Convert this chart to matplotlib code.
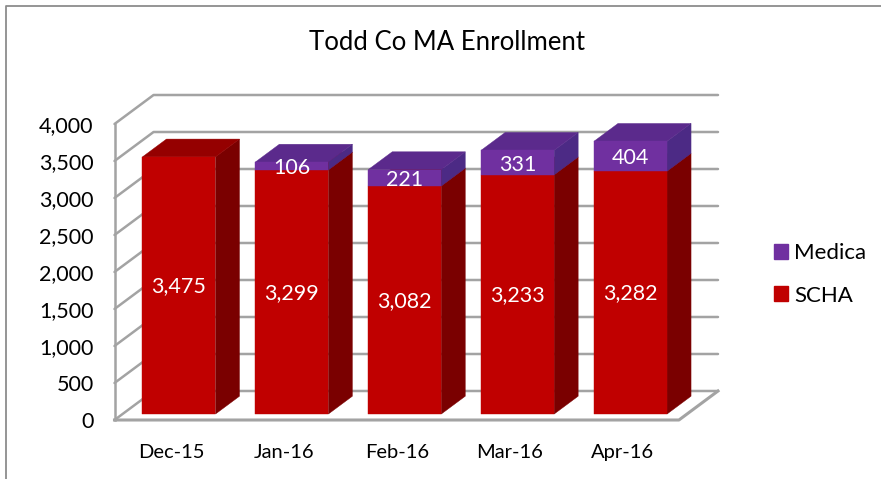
import matplotlib
matplotlib.use('Agg')
import matplotlib.pyplot as plt
from matplotlib.lines import Line2D
from matplotlib.patches import Patch

months = ['Dec-15', 'Jan-16', 'Feb-16', 'Mar-16', 'Apr-16']
scha = [3475, 3299, 3082, 3233, 3282]
medica = [0, 106, 221, 331, 404]
y_ticks = [0, 500, 1000, 1500, 2000, 2500, 3000, 3500, 4000]

# fake 3d: how far the back wall sits from the front, in data units
DEPTH_X = 0.346
DEPTH_Y = 392
BAR_W = 0.647
BAR_FRONT = 0.205
BAR_BACK = 0.82

RED = ('#c00000', '#7a0000', '#950000')
PURPLE = ('#7030a0', '#4c2a85', '#5b2a8c')
GRID = '#a3a3a3'

plt.rcParams['font.family'] = ['Lato', 'DejaVu Sans']


def proj(x, v, d):
    return x + d * DEPTH_X, v + d * DEPTH_Y


def box(ax, x0, x1, v0, v1, colors, z):
    # front, side and top of one segment
    front = [proj(x0, v0, BAR_FRONT), proj(x1, v0, BAR_FRONT),
             proj(x1, v1, BAR_FRONT), proj(x0, v1, BAR_FRONT)]
    side = [proj(x1, v0, BAR_FRONT), proj(x1, v0, BAR_BACK),
            proj(x1, v1, BAR_BACK), proj(x1, v1, BAR_FRONT)]
    top = [proj(x0, v1, BAR_FRONT), proj(x1, v1, BAR_FRONT),
           proj(x1, v1, BAR_BACK), proj(x0, v1, BAR_BACK)]
    for pts, c in zip((side, top, front), (colors[1], colors[2], colors[0])):
        ax.fill(*zip(*pts), color=c, lw=0.3, zorder=z, clip_on=False)


fig = plt.figure(figsize=(8.81, 4.79), dpi=100)
ax = fig.add_axes([114.5 / 881, 1 - 420 / 479, 603.5 / 881, 325 / 479])
ax.set_xlim(0, 5 + DEPTH_X)
ax.set_ylim(0, 4000 + DEPTH_Y)
for s in ax.spines.values():
    s.set_visible(False)

# walls and floor
for v in y_ticks:
    xs, ys = zip(proj(0, v, 0), proj(0, v, 1), proj(5, v, 1))
    ax.plot(xs, ys, color=GRID, lw=1.8, zorder=1, solid_capstyle='round', clip_on=False)
ax.plot([0, 0], [0, 4000], color=GRID, lw=1.8, zorder=1, clip_on=False)
xs, ys = zip(proj(0, 0, 0), proj(5, 0, 0), proj(5, 0, 1))
ax.plot(xs, ys, color=GRID, lw=2.2, zorder=1, clip_on=False)

# bars
for i in range(len(months)):
    x0 = i + 0.5 - BAR_W / 2
    x1 = i + 0.5 + BAR_W / 2
    box(ax, x0, x1, 0, scha[i], RED, 3 + i)
    cx, cy = proj(i + 0.5, scha[i] / 2, BAR_FRONT)
    ax.text(cx, cy - 10, f'{scha[i]:,}', color='white', fontsize=15.5, ha='center', va='center', zorder=20)
    if medica[i] > 0:
        box(ax, x0, x1, scha[i], scha[i] + medica[i], PURPLE, 3 + i)
        cx, cy = proj(i + 0.5, scha[i] + medica[i] / 2, BAR_FRONT)
        ax.text(cx, cy - 30, f'{medica[i]:,}', color='white', fontsize=15.5, ha='center', va='center', zorder=20)

ax.set_xticks([i + 0.5 for i in range(len(months))])
ax.set_xticklabels(months, fontsize=14.5)
ax.set_yticks(y_ticks)
ax.set_yticklabels([f'{v:,}' for v in y_ticks], fontsize=15.5)
ax.tick_params(axis='x', length=0, pad=17, colors='black')
ax.tick_params(axis='y', length=0, pad=15, colors='black')

fig.text(447 / 881, 1 - 43 / 479, 'Todd Co MA Enrollment', fontsize=18.5, ha='center', va='center')

handles = [Patch(color=PURPLE[0], label='Medica'), Patch(color=RED[0], label='SCHA')]
fig.legend(handles=handles, loc='center left', bbox_to_anchor=(754 / 881, 1 - 274.5 / 479),
           frameon=False, fontsize=16, handlelength=0.64, handleheight=0.64,
           handletextpad=0.27, labelspacing=1.0)

# chart border, only top and left survive the crop
fig.add_artist(Line2D([6 / 881, 6 / 881, 1], [0, 1 - 6 / 479, 1 - 6 / 479], color='#8c8c8c', lw=1.3))

fig.savefig('out.png', dpi=100)
